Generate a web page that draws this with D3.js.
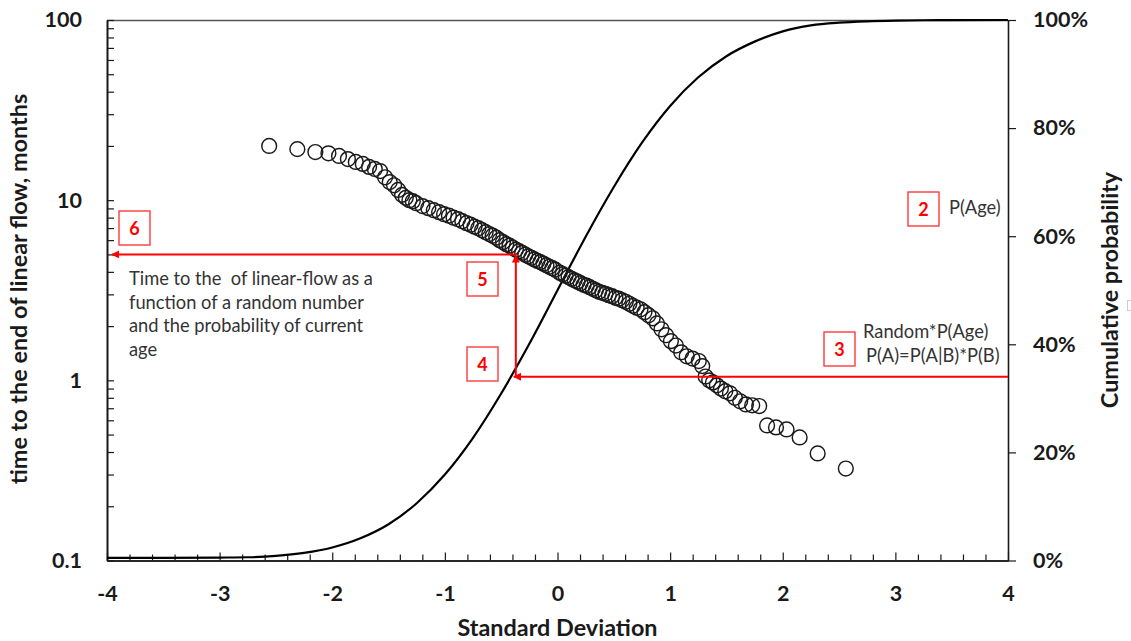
<!DOCTYPE html>
<html>
<head>
<meta charset="utf-8">
<script src="https://cdn.jsdelivr.net/npm/d3@7"></script>
<style>
  html, body { margin: 0; padding: 0; background: #fff; }
  svg { display: block; font-family: Lato, "Open Sans", sans-serif; }
</style>
</head>
<body>
<svg id="chart" width="1131" height="641"></svg>
<script>
// Normal-score plot of time to end of linear flow, with the cumulative probability curve.
const sdValues = [
  -2.56, -2.31, -2.15, -2.034, -1.94, -1.861, -1.791, -1.729, -1.673, -1.622,
  -1.575, -1.531, -1.49, -1.451, -1.415, -1.38, -1.347, -1.315, -1.285, -1.255,
  -1.199, -1.147, -1.098, -1.051, -1.007, -0.964, -0.923, -0.883, -0.845, -0.808,
  -0.772, -0.737, -0.703, -0.670, -0.638, -0.606, -0.575, -0.544, -0.514, -0.484,
  -0.455, -0.426, -0.398, -0.369, -0.341, -0.314, -0.286, -0.259, -0.232, -0.205,
  -0.178, -0.152, -0.125, -0.098, -0.072, -0.046, -0.020,
  0.020, 0.046, 0.072, 0.098, 0.125, 0.152, 0.178, 0.205, 0.232, 0.259,
  0.286, 0.314, 0.341, 0.369, 0.398, 0.426, 0.455, 0.484, 0.514, 0.544,
  0.575, 0.606, 0.638, 0.670, 0.703, 0.737, 0.772, 0.808, 0.845, 0.883,
  0.923, 0.964, 1.007, 1.051, 1.098, 1.147, 1.199,
  1.255, 1.285, 1.315, 1.347, 1.38, 1.415, 1.451, 1.49, 1.531, 1.575,
  1.622, 1.673, 1.729, 1.791, 1.861, 1.94, 2.034, 2.15, 2.31, 2.56
];
const timeMonths = [
  20.0, 19.2, 18.5, 18.2, 17.6, 16.9, 16.3, 15.9, 15.3, 14.9,
  14.5, 13.4, 12.6, 12.1, 11.4, 10.7, 10.3, 10.0, 9.87, 9.62,
  9.27, 9.03, 8.80, 8.58, 8.36, 8.20, 7.99, 7.84, 7.64, 7.45,
  7.31, 7.13, 6.99, 6.81, 6.64, 6.48, 6.35, 6.19, 6.00, 5.85,
  5.70, 5.59, 5.45, 5.31, 5.21, 5.10, 4.98, 4.88, 4.79, 4.69,
  4.60, 4.53, 4.44, 4.35, 4.27, 4.19, 4.11,
  3.96, 3.88, 3.81, 3.74, 3.66, 3.59, 3.53, 3.46, 3.39, 3.35,
  3.29, 3.22, 3.16, 3.10, 3.06, 3.02, 2.97, 2.93, 2.87, 2.84,
  2.78, 2.73, 2.66, 2.59, 2.53, 2.48, 2.39, 2.30, 2.21, 2.07,
  1.92, 1.78, 1.65, 1.56, 1.43, 1.36, 1.32,
  1.28, 1.20, 1.05, 1.00, 0.974, 0.938, 0.90, 0.87, 0.847, 0.80,
  0.765, 0.735, 0.727, 0.72, 0.562, 0.548, 0.534, 0.482, 0.393, 0.324
];

// Cumulative probability (%) against standard deviation
const sdCurve = [-4, -3.5, -3, -2.75, -2.5, -2.25, -2, -1.75, -1.5, -1.25, -1, -0.75, -0.5, -0.25,
  0, 0.25, 0.5, 0.75, 1, 1.25, 1.5, 1.75, 2, 2.25, 2.5, 2.75, 3, 3.25, 3.5, 4];
const cumProb = [0.5, 0.5, 0.55, 0.6, 0.85, 1.4, 2.4, 4.1, 6.7, 10.6, 15.9, 22.7, 30.9, 40.1,
  50, 59.9, 69.1, 77.3, 84.1, 89.4, 93.3, 96.0, 97.9, 99.0, 99.5, 99.75, 99.88, 99.95, 99.98, 100];

// Tick values
const xTicks = [-4, -3, -2, -1, 0, 1, 2, 3, 4];
const xMinorTicks = [-3.8, -3.6, -3.4, -3.2, -2.8, -2.6, -2.4, -2.2, -1.8, -1.6, -1.4, -1.2,
  -0.8, -0.6, -0.4, -0.2, 0.2, 0.4, 0.6, 0.8, 1.2, 1.4, 1.6, 1.8, 2.2, 2.4, 2.6, 2.8,
  3.2, 3.4, 3.6, 3.8];
const yLeftTicks = [0.1, 1, 10, 100];
const yLeftMinorTicks = [0.2, 0.3, 0.4, 0.5, 0.6, 0.7, 0.8, 0.9, 2, 3, 4, 5, 6, 7, 8, 9,
  20, 30, 40, 50, 60, 70, 80, 90];
const yRightTicks = [0, 20, 40, 60, 80, 100];

// Worked example: random probability -> standard deviation -> time
const pickProb = 34;
const pickSd = -0.37;
const pickTime = 5.0;

const svg = d3.select("#chart");
const plotLeft = 107, plotRight = 1008, plotTop = 20, plotBottom = 560.5;

const x = d3.scaleLinear().domain([-4, 4]).range([plotLeft, plotRight]);
const yL = d3.scaleLog().domain([0.1, 100]).range([plotBottom, plotTop]);
const yR = d3.scaleLinear().domain([0, 100]).range([plotBottom, plotTop]);

const ink = "#1a1a1a";

// frame top line
svg.append("line")
  .attr("x1", plotLeft).attr("x2", plotRight).attr("y1", plotTop + 0.5).attr("y2", plotTop + 0.5)
  .attr("stroke", "#555").attr("stroke-width", 1.5);

function styleAxis(g) {
  g.attr("font-family", null);
  g.select(".domain").attr("stroke", ink).attr("stroke-width", 1.6);
  g.selectAll(".tick line").attr("stroke", ink).attr("stroke-width", 1.2);
  g.selectAll(".tick text").attr("fill", ink).attr("font-size", 21.5).attr("font-weight", 700);
}

// bottom axis
const gxMinor = svg.append("g").attr("transform", `translate(0,${plotBottom})`)
  .call(d3.axisBottom(x).tickValues(xMinorTicks).tickSize(-6).tickSizeOuter(0).tickFormat(""));
styleAxis(gxMinor);
const gx = svg.append("g").attr("transform", `translate(0,${plotBottom})`)
  .call(d3.axisBottom(x).tickValues(xTicks).tickSize(-8).tickSizeOuter(0).tickPadding(25)
    .tickFormat(d => String(d)));
styleAxis(gx);

// left log axis
const gyMinor = svg.append("g").attr("transform", `translate(${plotLeft},0)`)
  .call(d3.axisLeft(yL).tickValues(yLeftMinorTicks).tickSize(-7).tickSizeOuter(0).tickFormat(""));
styleAxis(gyMinor);
const gy = svg.append("g").attr("transform", `translate(${plotLeft},0)`)
  .call(d3.axisLeft(yL).tickValues(yLeftTicks).tickSize(-7).tickSizeOuter(0).tickPadding(25)
    .tickFormat(d => String(d)));
styleAxis(gy);

// right percentage axis
const gyr = svg.append("g").attr("transform", `translate(${plotRight},0)`)
  .call(d3.axisRight(yR).tickValues(yRightTicks).tickSize(8).tickSizeOuter(0).tickPadding(17)
    .tickFormat(d => d + "%"));
styleAxis(gyr);

// axis titles
const titleSize = 23.4;
svg.append("text")
  .attr("x", (plotLeft + plotRight) / 2).attr("y", 636)
  .attr("text-anchor", "middle").attr("font-size", titleSize).attr("font-weight", 700).attr("fill", ink)
  .text("Standard Deviation");
svg.append("text")
  .attr("transform", "translate(27,289) rotate(-90)")
  .attr("text-anchor", "middle").attr("font-size", titleSize).attr("font-weight", 700).attr("fill", ink)
  .text("time to the end of linear flow, months");
svg.append("text")
  .attr("transform", "translate(1118,290) rotate(-90)")
  .attr("text-anchor", "middle").attr("font-size", titleSize).attr("font-weight", 700).attr("fill", ink)
  .text("Cumulative probability");

// cumulative probability curve
const curveData = sdCurve.map((s, i) => ({ s, p: cumProb[i] }));
svg.append("path")
  .datum(curveData)
  .attr("fill", "none").attr("stroke", "#000").attr("stroke-width", 2.2)
  .attr("d", d3.line().x(d => x(d.s)).y(d => yR(d.p)).curve(d3.curveMonotoneX));

// scatter of times
const pts = sdValues.map((s, i) => ({ s, t: timeMonths[i] }));
svg.append("g").selectAll("circle").data(pts).join("circle")
  .attr("cx", d => x(d.s)).attr("cy", d => yL(d.t)).attr("r", 7.4)
  .attr("fill", "none").attr("stroke", "#1a1a1a").attr("stroke-width", 1.45);

// red arrows
const red = "#ff0000";
const defs = svg.append("defs");
defs.append("marker")
  .attr("id", "arrowhead").attr("viewBox", "0 0 10 10")
  .attr("refX", 9).attr("refY", 5).attr("markerWidth", 4).attr("markerHeight", 4)
  .attr("markerUnits", "strokeWidth").attr("orient", "auto")
  .append("path").attr("d", "M0,0 L10,5 L0,10 z").attr("fill", red);

const arrows = [
  [x(4), yR(pickProb), x(pickSd) - 2, yR(pickProb)],
  [x(pickSd), yR(pickProb), x(pickSd), yL(pickTime) + 1],
  [x(pickSd) + 1, yL(pickTime), x(-4) + 5, yL(pickTime)]
];
svg.append("g").selectAll("line").data(arrows).join("line")
  .attr("x1", d => d[0]).attr("y1", d => d[1]).attr("x2", d => d[2]).attr("y2", d => d[3])
  .attr("stroke", red).attr("stroke-width", 2).attr("marker-end", "url(#arrowhead)");

// numbered step boxes
const steps = [
  { n: "2", x: 908, y: 192 },
  { n: "3", x: 824, y: 332 },
  { n: "4", x: 467, y: 347 },
  { n: "5", x: 467, y: 262 },
  { n: "6", x: 119, y: 211 }
];
const sg = svg.append("g").selectAll("g").data(steps).join("g")
  .attr("transform", d => `translate(${d.x},${d.y})`);
sg.append("rect").attr("width", 31).attr("height", 34)
  .attr("fill", "#fff").attr("stroke", "#ff3b3b").attr("stroke-width", 1.4);
sg.append("text").attr("x", 15.5).attr("y", 23.5).attr("text-anchor", "middle")
  .attr("font-size", 18).attr("font-weight", 700).attr("fill", red).text(d => d.n);

// annotation text
const noteColor = "#333";
const notes = [
  { t: "P(Age)", x: 949, y: 214 },
  { t: "Random*P(Age)", x: 863, y: 338 },
  { t: "P(A)=P(A|B)*P(B)", x: 866, y: 362 },
  { t: "Time to the  of linear-flow as a", x: 129, y: 285 },
  { t: "function of a random number", x: 129, y: 308.5 },
  { t: "and the probability of current", x: 129, y: 332 },
  { t: "age", x: 129, y: 355.5 }
];
svg.append("g").selectAll("text").data(notes).join("text")
  .attr("x", d => d.x).attr("y", d => d.y)
  .attr("font-size", 18.3).attr("fill", noteColor)
  .style("white-space", "pre")
  .text(d => d.t);

// small clipped box at the right edge
svg.append("rect").attr("x", 1127.5).attr("y", 300.5).attr("width", 8).attr("height", 10)
  .attr("fill", "none").attr("stroke", "#ccc").attr("stroke-width", 1);
</script>
</body>
</html>
